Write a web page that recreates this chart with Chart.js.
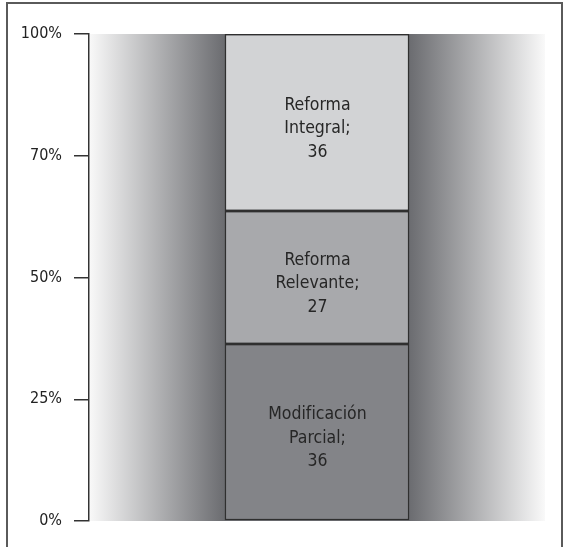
<!doctype html>
<html lang="es">
  <head>
    <meta charset="utf-8">
    <title>Tipo de reforma</title>
    <style>
      * {
        margin: 0;
        padding: 0;
      }
      body {
        background: #fff;
        width: 567px;
        height: 547px;
        overflow: hidden;
        position: relative;
      }
      .frame {
        position: absolute;
        left: 6px;
        top: 2px;
        width: 553px;
        height: 560px;
        border: 2px solid #5a5a5a;
      }
      #myChart {
        position: absolute;
        left: 0;
        top: 0;
      }
    </style>
  </head>
  <body>
    <div class="frame"></div>
    <canvas id="myChart" width="567" height="547"></canvas>
    <script src="https://cdn.jsdelivr.net/npm/chart.js/dist/chart.umd.min.js"></script>
    <script>
    // data
    const categories = ['Modificación Parcial', 'Reforma Relevante', 'Reforma Integral'];
    const values = [36, 27, 36];
    const tickValues = [0, 25, 50, 75, 100];
    const tickLabels = ['0%', '25%', '50%', '70%', '100%'];

    const fillColors = ['#838488', '#a8a9ac', '#d2d3d5'];
    const fontFamily = '"DejaVu Sans Condensed", "Liberation Sans", sans-serif';
    const total = values.reduce((a, b) => a + b, 0);

    const data = {
      labels: [''],
      datasets: categories.map((name, i) => ({
        label: name,
        data: [values[i] / total * 100],
        backgroundColor: fillColors[i],
        borderColor: '#2f2f2f',
        borderWidth: 1.5,
        borderSkipped: false,
        barPercentage: 0.405,
        categoryPercentage: 1
      }))
    };

    // shaded band behind the bar, darkest at the bar edges
    const bandBackground = {
      id: 'bandBackground',
      beforeDatasetsDraw(chart) {
        const { ctx, chartArea: { left, right, top, bottom } } = chart;
        const bar = chart.getDatasetMeta(0).data[0];
        const { x, width } = bar.getProps(['x', 'width'], true);
        const w = right - left;
        const g = ctx.createLinearGradient(left, 0, right, 0);
        g.addColorStop(0, '#f9f9f9');
        g.addColorStop((x - width / 2 - left) / w, '#6b6c70');
        g.addColorStop((x + width / 2 - left) / w, '#6b6c70');
        g.addColorStop(1, '#f9f9f9');
        ctx.save();
        ctx.fillStyle = g;
        ctx.fillRect(left + 1, top, w - 1, bottom - top);
        ctx.restore();
      }
    };

    // name; value labels inside each segment
    const segmentLabels = {
      id: 'segmentLabels',
      afterDatasetsDraw(chart) {
        const { ctx } = chart;
        ctx.save();
        ctx.font = '17.5px ' + fontFamily;
        ctx.fillStyle = '#262626';
        ctx.textAlign = 'center';
        ctx.textBaseline = 'middle';
        chart.data.datasets.forEach((ds, i) => {
          const el = chart.getDatasetMeta(i).data[0];
          const { x, y, base } = el.getProps(['x', 'y', 'base'], true);
          const words = categories[i].split(' ');
          words[words.length - 1] += ';';
          const lines = words.concat(String(values[i]));
          const lh = 23.5;
          const cy = (y + base) / 2 + 6;
          lines.forEach((line, k) => {
            ctx.fillText(line, x + 0.5, cy + (k - (lines.length - 1) / 2) * lh);
          });
        });
        ctx.restore();
      }
    };

    const config = {
      type: 'bar',
      data,
      options: {
        responsive: false,
        animation: false,
        layout: {
          padding: { left: 0, top: 34, right: 22, bottom: 26 }
        },
        scales: {
          x: {
            stacked: true,
            display: false
          },
          y: {
            stacked: true,
            min: 0,
            max: 100,
            afterFit(scale) {
              scale.width = 89;
            },
            afterBuildTicks(scale) {
              scale.ticks = tickValues.map(v => ({ value: v }));
            },
            grid: {
              drawOnChartArea: false,
              drawTicks: true,
              tickLength: 15,
              color: '#333',
              lineWidth: 1.5
            },
            border: {
              display: true,
              color: '#333',
              width: 1.5
            },
            ticks: {
              padding: 12,
              color: '#222',
              font: { family: fontFamily, size: 16 },
              callback: (v) => tickLabels[tickValues.indexOf(v)]
            }
          }
        },
        plugins: {
          legend: { display: false },
          tooltip: { enabled: false }
        }
      },
      plugins: [bandBackground, segmentLabels]
    };

    const myChart = new Chart(document.getElementById('myChart'), config);
    </script>
  </body>
</html>
